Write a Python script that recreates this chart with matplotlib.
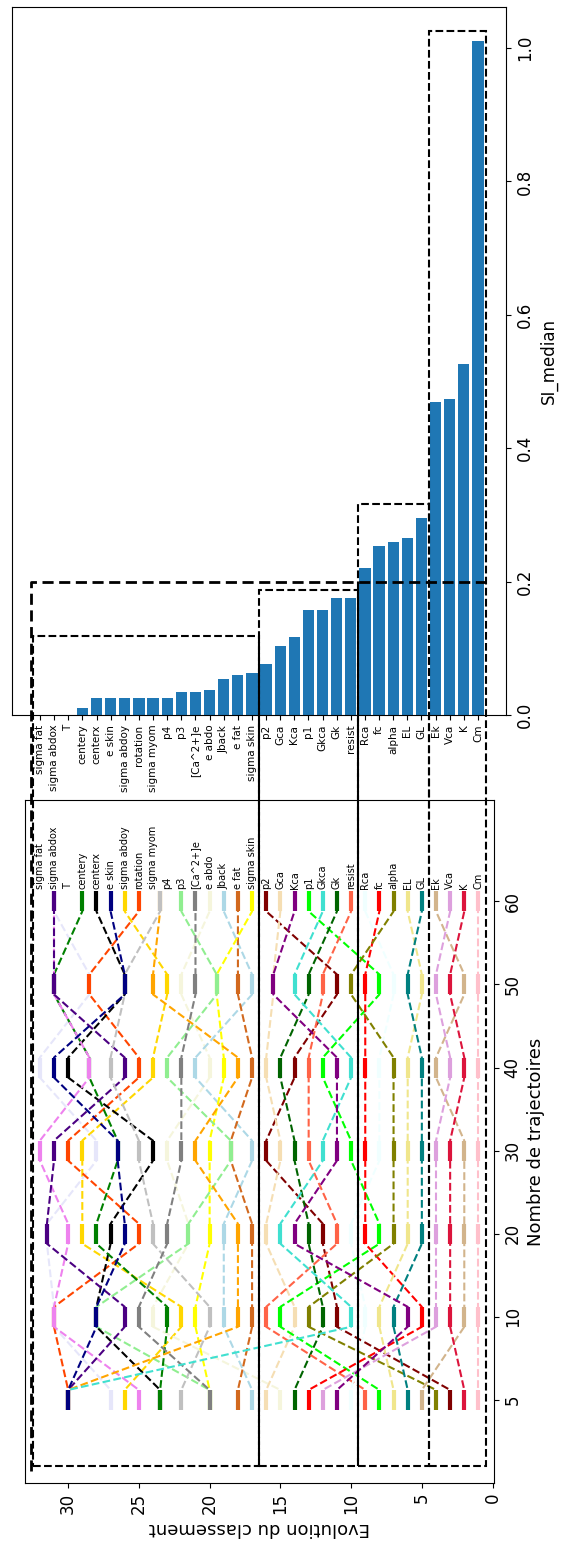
import matplotlib
matplotlib.use("Agg")
import matplotlib.pyplot as plt
from matplotlib.lines import Line2D
from matplotlib.patches import Rectangle

# parameters sorted by final rank (least sensitive first)
PARAMS = ["sigma fat", "sigma abdox", "T", "centery", "centerx", "e skin",
          "sigma abdoy", "rotation", "sigma myom", "p4", "p3", "[Ca^2+]e",
          "e abdo", "Jback", "e fat", "sigma skin", "p2", "Gca", "Kca", "p1",
          "Gkca", "Gk", "resist", "Rca", "fc", "alpha", "EL", "GL", "Ek",
          "Vca", "K", "Cm"]
COLORS = ["lavender", "indigo", "violet", "green", "black", "navy", "gold",
          "orangered", "orange", "silver", "lightgreen", "gray", "beige",
          "lightblue", "chocolate", "yellow", "maroon", "wheat", "purple",
          "lime", "turquoise", "darkgreen", "tomato", "azure", "red", "olive",
          "khaki", "teal", "tan", "plum", "crimson", "pink"]
SI_MEDIAN = [0.0, 0.0, 0.0, 0.011, 0.025, 0.025, 0.025, 0.025, 0.025, 0.025,
             0.034, 0.034, 0.038, 0.054, 0.060, 0.063, 0.076, 0.103, 0.117,
             0.157, 0.157, 0.175, 0.175, 0.220, 0.254, 0.260, 0.266, 0.296,
             0.469, 0.474, 0.527, 1.011]
TRAJ = [5, 10, 20, 30, 40, 50, 60]

# rank of each parameter (PARAMS order) for each number of trajectories
RANK_5 = [27, 30, 25, 23.5, 23.5, 30, 26, 30, 30, 22, 20, 20, 15, 17, 18, 20,
          3, 16, 11, 8, 30, 14, 9, 10, 13, 4, 7, 6, 5, 12, 2, 1]
RANK_10 = [31, 26, 31, 23, 28, 28, 22, 31, 18, 20, 28, 25, 24, 19, 17, 21,
           11, 14, 6, 15, 10, 12, 16, 9, 5, 13, 8, 7, 2, 4, 3, 1]
RANK_20 = [31.5, 31.5, 30, 28, 27, 26, 29, 25, 18, 24, 21.5, 23, 21.5, 19, 17,
           20, 12, 16, 14, 8, 15, 13, 11, 10, 9, 7, 6, 5, 2, 4, 3, 1]
RANK_30 = [28, 31, 32, 26.5, 24, 26.5, 29, 30, 21, 25, 18.5, 22, 23, 17, 18.5,
           20, 16, 15, 11, 10, 12, 14, 13, 8, 9, 7, 6, 5, 2, 4, 3, 1]
RANK_40 = [32, 26, 28.5, 28.5, 30, 31, 24, 25, 18, 27, 23, 22, 20, 21, 17, 19,
           14, 16, 11, 12, 10, 15, 13, 8, 9, 7, 6, 5, 4, 3, 2, 1]
RANK_50 = [28.5, 31, 31, 31, 26, 26, 23, 28.5, 24, 26, 19.5, 21, 22, 17, 18,
           19.5, 11, 15.5, 15.5, 8, 14, 13, 12, 7, 9, 10, 5, 6, 2, 4, 3, 1]
RANK_60 = [31, 31, 31, 29, 28, 27, 26, 25, 23.5, 23.5, 22, 21, 20, 19, 18, 17,
           16, 15, 14, 13, 12, 11, 10, 9, 8, 7, 6, 5, 4, 3, 2, 1]

# groups of parameters: rank limits and height of the box on the SI axis
GROUP_EDGES = [32.5, 16.5, 9.5, 4.5, 0.5]
GROUP_TOPS = [0.118, 0.187, 0.317, 1.026]
THRESHOLD = 0.2

# order in which the lines are stacked (last on top)
DRAW_ORDER = ["sigma fat", "p3", "rotation", "centerx", "centery", "T",
              "sigma abdox", "sigma myom", "p4", "[Ca^2+]e", "Gkca", "Kca",
              "e skin"]

W = 0.12
BIG = 12

fig = plt.figure(figsize=(5.62, 15.53), dpi=100)
ax_bar = fig.add_axes([12 / 562, 1 - 715 / 1553, 494 / 562, 708 / 1553])
ax_rk = fig.add_axes([25 / 562, 1 - 1483 / 1553, 469 / 562, 683 / 1553])

# --- bar chart of SI median
x = list(range(len(PARAMS)))
ax_bar.bar(x, SI_MEDIAN, width=0.8, color="#1f77b4")
ax_bar.set_xlim(-1.99, 32.99)
ax_bar.set_ylim(0, 1.0615)
ax_bar.set_xticks(x)
ax_bar.set_xticklabels(PARAMS, rotation=90, fontsize=7.5)
ax_bar.yaxis.tick_right()
ax_bar.yaxis.set_label_position("right")
ax_bar.set_yticks([0, 0.2, 0.4, 0.6, 0.8, 1.0])
ax_bar.set_yticklabels(["0.0", "0.2", "0.4", "0.6", "0.8", "1.0"],
                       rotation=90, va="center", fontsize=BIG)
ax_bar.set_ylabel("SI_median", rotation=90, fontsize=BIG)

# --- rank evolution
ranks_by_step = [RANK_5, RANK_10, RANK_20, RANK_30, RANK_40, RANK_50, RANK_60]
order = [p for p in PARAMS if p not in DRAW_ORDER] + DRAW_ORDER
for z, name in enumerate(order):
    j = PARAMS.index(name)
    c = COLORS[j]
    rk = [step[j] for step in ranks_by_step]
    xs, ys = [], []
    for i, r in enumerate(rk):
        xs += [r, r]
        ys += [i - W, i + W]
    ax_rk.plot(xs, ys, "--", color=c, lw=1.5, zorder=2 + z * 0.01)
    for i, r in enumerate(rk):
        ax_rk.plot([r, r], [i - W, i + W], "-", color=c, lw=3,
                   solid_capstyle="butt", zorder=3 + z * 0.01)

for j, name in enumerate(PARAMS):
    ax_rk.text(len(PARAMS) - j, len(TRAJ) - 1 + W + 0.03, name, rotation=90,
               ha="center", va="bottom", fontsize=7)

ax_rk.set_xlim(33.05, -0.1)
ax_rk.set_ylim(-1, 7.22)
ax_rk.set_xticks([0, 5, 10, 15, 20, 25, 30])
ax_rk.set_xticklabels(["0", "5", "10", "15", "20", "25", "30"], rotation=90,
                      fontsize=BIG)
ax_rk.yaxis.tick_right()
ax_rk.yaxis.set_label_position("right")
ax_rk.set_yticks(range(len(TRAJ)))
ax_rk.set_yticklabels([str(t) for t in TRAJ], rotation=90, va="center",
                      fontsize=BIG)
ax_rk.set_ylabel("Nombre de trajectoires", rotation=90, fontsize=BIG + 1)
ax_rk.set_xlabel("Evolution du classement", rotation=180, fontsize=BIG + 1)

# --- group boxes spanning both panels
inv = fig.transFigure.inverted()


def fig_xy(ax, px, py):
    return inv.transform(ax.transData.transform((px, py)))


bottom = fig_xy(ax_rk, 0, -0.8)[1]
for k, top_val in enumerate(GROUP_TOPS):
    x0 = fig_xy(ax_rk, GROUP_EDGES[k], 0)[0]
    x1 = fig_xy(ax_rk, GROUP_EDGES[k + 1], 0)[0]
    top = fig_xy(ax_bar, 0, top_val)[1]
    fig.add_artist(Rectangle((x0, bottom), x1 - x0, top - bottom,
                             transform=fig.transFigure, fill=False,
                             ls="--", lw=1.5, ec="black", zorder=5))

# threshold line
y_thr = fig_xy(ax_bar, 0, THRESHOLD)[1]
x_left = fig_xy(ax_rk, 32.6, 0)[0]
x_right = fig_xy(ax_rk, 0.1, 0)[0]
y_low = fig_xy(ax_rk, 0, -0.85)[1]
fig.add_artist(Line2D([x_left, x_left, x_right], [y_low, y_thr, y_thr],
                      transform=fig.transFigure, color="black", lw=2,
                      dashes=(4, 2), zorder=6))

fig.savefig("out.png", dpi=100)
